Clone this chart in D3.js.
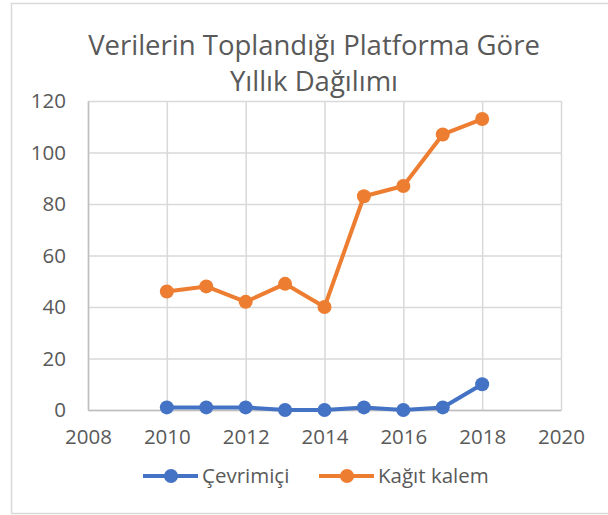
<!DOCTYPE html>
<html>
<head>
<meta charset="utf-8">
<script src="https://cdn.jsdelivr.net/npm/d3@7"></script>
<style>
	body { margin: 0; background: #fff; }
	text { font-family: "Open Sans", sans-serif; fill: #595959; }
</style>
</head>
<body>
<div class="chart"></div>
<script>
(function() {
	var width = 608,
		height = 515;

	var years = [2010, 2011, 2012, 2013, 2014, 2015, 2016, 2017, 2018];
	var cevrimici = [1, 1, 1, 0, 0, 1, 0, 1, 10];
	var kagitKalem = [46, 48, 42, 49, 40, 83, 87, 107, 113];
	var seriesNames = ["Çevrimiçi", "Kağıt kalem"];
	var seriesColors = ["#4472C4", "#ED7D31"];
	var xTicks = [2008, 2010, 2012, 2014, 2016, 2018, 2020];
	var yTicks = [0, 20, 40, 60, 80, 100, 120];
	var titleLines = ["Verilerin Toplandığı Platforma Göre", "Yıllık Dağılımı"];

	var left = 88, right = 561, top = 101, bottom = 410;

	var x = d3.scaleLinear().domain([2008, 2020]).range([left, right]);
	var y = d3.scaleLinear().domain([0, 120]).range([bottom, top]);

	var svg = d3.select(".chart").append("svg")
		.attr("width", width)
		.attr("height", height);

	// chart area border
	svg.append("rect")
		.attr("x", 11.5).attr("y", 3.5)
		.attr("width", 620).attr("height", 510)
		.attr("fill", "none")
		.attr("stroke", "#d9d9d9")
		.attr("stroke-width", 1.5);

	svg.selectAll("text.title")
		.data(titleLines)
		.enter().append("text")
		.attr("class", "title")
		.attr("x", 314)
		.attr("y", function(d, i) { return 55 + i * 36; })
		.attr("text-anchor", "middle")
		.style("font-size", "27.5px")
		.text(function(d) { return d; });

	// grid
	svg.append("g")
		.attr("transform", "translate(0," + bottom + ")")
		.call(d3.axisBottom(x).tickValues(xTicks).tickSize(-(bottom - top)).tickFormat(""))
		.call(function(g) {
			g.select(".domain").remove();
			g.selectAll("line").attr("stroke", "#d9d9d9").attr("stroke-width", 1.5);
		});
	svg.append("g")
		.attr("transform", "translate(" + left + ",0)")
		.call(d3.axisLeft(y).tickValues(yTicks).tickSize(-(right - left)).tickFormat(""))
		.call(function(g) {
			g.select(".domain").remove();
			g.selectAll("line").attr("stroke", "#d9d9d9").attr("stroke-width", 1.5);
		});

	// axes
	var xAxis = svg.append("g")
		.attr("transform", "translate(0," + bottom + ")")
		.call(d3.axisBottom(x).tickValues(xTicks).tickSize(0).tickPadding(15).tickFormat(d3.format("d")));
	var yAxis = svg.append("g")
		.attr("transform", "translate(" + left + ",0)")
		.call(d3.axisLeft(y).tickValues(yTicks).tickSize(0).tickPadding(22));
	[xAxis, yAxis].forEach(function(a) {
		a.select(".domain").attr("stroke", "#bfbfbf").attr("stroke-width", 1.5);
		a.selectAll("text").style("font-size", "20.5px").style("font-family", "Open Sans").attr("fill", "#595959");
	});
	xAxis.selectAll("text").attr("dy", "0.95em");

	var line = d3.line()
		.x(function(d) { return x(d[0]); })
		.y(function(d) { return y(d[1]); });

	var series = [cevrimici, kagitKalem].map(function(vals) {
		return years.map(function(yr, i) { return [yr, vals[i]]; });
	});

	var g = svg.selectAll("g.series")
		.data(series)
		.enter().append("g")
		.attr("class", "series");

	g.append("path")
		.attr("d", line)
		.attr("fill", "none")
		.attr("stroke", function(d, i) { return seriesColors[i]; })
		.attr("stroke-width", 4)
		.attr("stroke-linejoin", "round");

	g.each(function(d, i) {
		d3.select(this).selectAll("circle")
			.data(d)
			.enter().append("circle")
			.attr("cx", function(p) { return x(p[0]); })
			.attr("cy", function(p) { return y(p[1]); })
			.attr("r", 7)
			.attr("fill", seriesColors[i]);
	});

	// legend
	var legendX = [143, 319];
	var leg = svg.selectAll("g.legend")
		.data(seriesNames)
		.enter().append("g")
		.attr("class", "legend")
		.attr("transform", function(d, i) { return "translate(" + legendX[i] + ",476)"; });
	leg.append("line")
		.attr("x1", 0).attr("x2", 55)
		.attr("stroke", function(d, i) { return seriesColors[i]; })
		.attr("stroke-width", 4);
	leg.append("circle")
		.attr("cx", 28).attr("r", 7)
		.attr("fill", function(d, i) { return seriesColors[i]; });
	leg.append("text")
		.attr("x", 59)
		.attr("dy", "0.35em")
		.style("font-size", "20.5px")
		.text(function(d) { return d; });
})();
</script>
</body>
</html>
